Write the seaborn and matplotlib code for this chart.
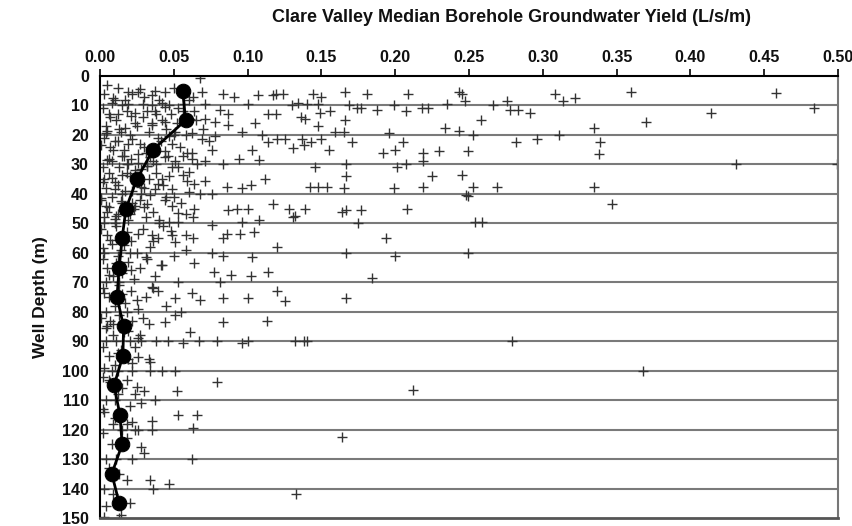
import matplotlib
matplotlib.use("Agg")
import matplotlib.pyplot as plt
import seaborn as sns
import pandas as pd

# ---- median line (L/s/m vs depth, m) ----
median_depth = [5, 15, 25, 35, 45, 55, 65, 75, 85, 95, 105, 115, 125, 135, 145]
median_yield = [0.056, 0.058, 0.036, 0.025, 0.0176, 0.015, 0.013, 0.0115, 0.016,
                0.0155, 0.0095, 0.0135, 0.015, 0.008, 0.013]

# ---- individual boreholes: high-yield (sparse) points ----
outer_yield = [0.458, 0.484, 0.414, 0.431, 0.499,
               0.360, 0.308, 0.314, 0.322, 0.266, 0.276, 0.278, 0.283, 0.291, 0.258, 0.370,
               0.335, 0.253, 0.282, 0.296, 0.311, 0.339, 0.338, 0.249, 0.245, 0.253, 0.269,
               0.335, 0.249, 0.347, 0.245, 0.247,
               0.119, 0.124, 0.144, 0.150, 0.166, 0.181, 0.209, 0.243, 0.235, 0.130, 0.134,
               0.140, 0.148, 0.169, 0.174, 0.177, 0.188, 0.199, 0.207, 0.218, 0.222, 0.119,
               0.136, 0.139, 0.149, 0.156, 0.166, 0.148, 0.159, 0.165, 0.196, 0.234, 0.243,
               0.120, 0.125, 0.137, 0.143, 0.150, 0.171, 0.205, 0.131, 0.138, 0.155, 0.192,
               0.200, 0.219, 0.230, 0.219, 0.146, 0.167, 0.201, 0.207, 0.167, 0.225, 0.142,
               0.148, 0.154, 0.165, 0.199, 0.219, 0.248, 0.117, 0.128, 0.132, 0.139, 0.164,
               0.167, 0.177, 0.208,
               0.131, 0.175, 0.254, 0.259, 0.194, 0.120, 0.167, 0.200, 0.249, 0.184, 0.120,
               0.125, 0.167, 0.132, 0.138, 0.140, 0.279, 0.212, 0.164, 0.133, 0.368]
outer_depth = [5.8, 10.8, 12.5, 30, 30,
               5.5, 6, 8.5, 7.5, 10, 8.5, 11.5, 11.5, 12.5, 15, 15.5,
               17.5, 20, 22.5, 21.5, 20, 22.5, 26.5, 25.5, 33.5, 37.5, 37.5,
               37.5, 40.7, 43.5, 6, 8.5,
               6, 6, 6, 7, 5.5, 6, 6, 5.5, 9.5, 10, 9,
               9.5, 9.5, 10, 11, 11, 11.5, 10, 12, 11, 11, 13,
               14, 14.5, 12.5, 12, 15, 17, 19, 19, 19.5, 17.5, 18.5,
               21.5, 21.5, 21.5, 22.5, 21.5, 22.5, 22.5, 24.5, 23.5, 25, 26,
               25, 26, 25.5, 29, 31, 30, 31, 30, 34, 34, 37.5,
               37.5, 37.5, 38, 38, 37.5, 40.5, 43.5, 45, 47.5, 45, 46,
               45.5, 45.5, 45,
               48, 50, 49.5, 49.5, 55, 58, 60, 61, 60, 68.5, 73,
               76.5, 75.5, 90, 90, 90, 90, 106.5, 122.5, 142, 100]

# ---- moderate-yield points ----
mid_yield = [0.068, 0.083, 0.091, 0.107, 0.117, 0.100, 0.114, 0.105, 0.096, 0.110, 0.114,
             0.103, 0.108, 0.094, 0.083, 0.112, 0.102, 0.086, 0.096, 0.076, 0.087, 0.093,
             0.100, 0.071, 0.064, 0.060, 0.071, 0.062, 0.076, 0.069, 0.078, 0.081, 0.087,
             0.087, 0.071, 0.069, 0.044, 0.035, 0.042, 0.047, 0.037, 0.056, 0.064, 0.071,
             0.078, 0.044, 0.035, 0.051, 0.062, 0.049, 0.056, 0.044, 0.032, 0.049, 0.056,
             0.042, 0.037, 0.049, 0.060, 0.049, 0.064, 0.058,
             0.076, 0.096, 0.108, 0.086, 0.095, 0.104, 0.083, 0.047, 0.053, 0.063, 0.035,
             0.049, 0.058, 0.063, 0.051, 0.050, 0.076, 0.083, 0.103, 0.064, 0.077, 0.089,
             0.102, 0.114, 0.081, 0.039, 0.051, 0.062, 0.068, 0.083, 0.100, 0.051, 0.044,
             0.083, 0.113, 0.061, 0.079, 0.096, 0.100, 0.056, 0.026, 0.034,
             0.051, 0.042, 0.034, 0.079, 0.052, 0.030, 0.025, 0.037, 0.053, 0.066, 0.035,
             0.022, 0.063, 0.030, 0.062, 0.018, 0.034, 0.047, 0.036, 0.014, 0.003]
mid_depth = [0.6, 6, 7, 6.5, 6.5, 9.5, 13, 16, 19, 20, 22.5,
             25, 28.5, 28, 30, 35, 37, 37.5, 38, 40, 45.5, 45,
             45, 35.5, 36.5, 32.5, 29, 26, 25, 21.5, 20.5, 11.5, 13,
             16.5, 9.5, 5.5, 5.5, 6.5, 9, 10, 12, 12, 12, 14.5,
             15.5, 15.5, 16.5, 19, 19.5, 23, 27, 27.5, 30.5, 31, 33.5,
             35, 38.5, 38.5, 39.5, 44, 45, 47,
             50.5, 49.5, 49, 53.5, 53.5, 53, 55, 49.5, 49.5, 48, 54,
             54, 54, 55, 56.5, 61, 60, 61, 61.5, 63.5, 66.5, 67.5,
             68, 66.5, 70, 73, 75.5, 73.5, 76, 75.5, 75.5, 81, 83.5,
             83.5, 83, 87, 90, 90.5, 90, 90.5, 95.5, 97,
             100, 100, 100, 104, 107, 107, 105.5, 110, 115, 115, 117,
             117.5, 119.5, 128, 130, 137, 137, 138.5, 140, 149, 149.5]

# ---- low-yield (dense) points ----
low_yield = [0.005, 0.012, 0.022, 0.030, 0.008, 0.015, 0.035, 0.040, 0.050, 0.060,
             0.003, 0.019, 0.026, 0.010, 0.019, 0.029, 0.024, 0.012, 0.017, 0.005,
             0.002, 0.006, 0.011, 0.018, 0.024, 0.029, 0.033, 0.038, 0.004, 0.014,
             0.020, 0.045, 0.052, 0.058, 0.022, 0.010, 0.001, 0.026, 0.015, 0.005,
             0.003, 0.007, 0.012, 0.016, 0.021, 0.027, 0.031, 0.036, 0.041, 0.008,
             0.018, 0.046, 0.054, 0.066, 0.019, 0.032, 0.015, 0.003, 0.028, 0.010,
             0.002, 0.006, 0.010, 0.013, 0.017, 0.020, 0.024, 0.028, 0.033, 0.038,
             0.043, 0.004, 0.053, 0.068, 0.015, 0.001, 0.022, 0.032, 0.005, 0.010,
             0.001, 0.004, 0.008, 0.012, 0.015, 0.019, 0.023, 0.027, 0.031, 0.036,
             0.040, 0.003, 0.045, 0.055, 0.010,
             0.001, 0.005, 0.008, 0.011, 0.014, 0.018, 0.021, 0.025, 0.029, 0.034,
             0.039, 0.003, 0.043, 0.058, 0.020,
             0.002, 0.005, 0.009, 0.012, 0.015, 0.019, 0.023, 0.027, 0.032, 0.037,
             0.004, 0.042, 0.053, 0.013,
             0.002, 0.006, 0.010, 0.013, 0.017, 0.021, 0.026, 0.031, 0.036, 0.004,
             0.045, 0.055, 0.018,
             0.001, 0.005, 0.009, 0.013, 0.017, 0.022, 0.027, 0.033, 0.004, 0.011,
             0.020, 0.028, 0.038, 0.046, 0.067,
             0.002, 0.006, 0.010, 0.014, 0.019, 0.024, 0.003, 0.012, 0.022, 0.008,
             0.002, 0.007, 0.012, 0.018, 0.004, 0.010, 0.020, 0.003, 0.009, 0.015,
             0.024, 0.002, 0.008, 0.018, 0.028, 0.004, 0.011, 0.022, 0.006, 0.013,
             0.003, 0.009, 0.020, 0.004, 0.013, 0.026, 0.035]
low_depth = [3, 4, 6, 7, 9, 10, 10, 8, 4, 8,
             6, 5.5, 5.5, 8, 9.5, 9.5, 12.5, 13, 17.5, 18.5,
             11, 13, 15, 12, 16, 14, 19, 13, 17, 19,
             20, 18, 16, 20, 21.5, 22, 23.5, 26.5, 27, 28.5,
             21, 24, 22, 25, 28, 23, 26, 29, 22, 29,
             30, 27, 24, 30, 30, 30.5, 33.5, 35, 37.5, 38.5,
             31, 33, 36, 31, 39, 34, 32, 40, 35, 33,
             37, 38, 31, 40, 40, 41.5, 43, 43.5, 46, 48.5,
             42, 44, 41, 47, 43, 49, 45, 42, 48, 46,
             50, 50, 41, 43, 50,
             52, 54, 57, 51, 59, 53, 56, 60, 52, 58,
             55, 60, 51, 59, 60,
             62, 65, 68, 61, 67, 63, 69, 65, 62, 68,
             70, 64, 70, 70,
             72, 75, 78, 71, 77, 73, 79, 75, 72, 80,
             78, 80, 80,
             82, 85, 88, 81, 86, 83, 88, 84, 90, 90,
             90, 90, 90, 90, 90,
             92, 95, 98, 93, 96, 92, 99, 100, 100, 100,
             102, 104, 108, 103, 110, 110, 112, 114, 118, 120,
             120, 121, 125, 123, 126, 130, 130, 130, 133, 135,
             140, 142, 145, 146, 150, 120, 120]

# ---- additional points in the densest band (shallow, low yield) ----
dense_yield = [0.009, 0.017, 0.027, 0.037, 0.044, 0.053, 0.063, 0.007, 0.021, 0.032,
               0.042, 0.048, 0.057, 0.065, 0.004, 0.013, 0.025, 0.035, 0.047, 0.061,
               0.070, 0.009, 0.019, 0.030, 0.039, 0.050, 0.059, 0.074, 0.006, 0.016,
               0.026, 0.034, 0.044, 0.051, 0.062, 0.008, 0.018, 0.028, 0.038, 0.047,
               0.059, 0.002, 0.012, 0.022, 0.030, 0.039, 0.050, 0.006, 0.014, 0.024,
               0.034, 0.044, 0.053, 0.003, 0.011, 0.020, 0.030, 0.040, 0.048, 0.007,
               0.016, 0.026, 0.036, 0.002, 0.011, 0.021, 0.031, 0.041, 0.006, 0.015,
               0.025, 0.035, 0.003, 0.009, 0.019, 0.029, 0.007, 0.016, 0.026, 0.004,
               0.012, 0.022, 0.033, 0.006, 0.015, 0.024, 0.002, 0.010, 0.018, 0.028]
dense_depth = [7.5, 8, 4.5, 5, 10.5, 11, 7, 14, 13.5, 12, 15, 13, 9.5, 15,
               19.5, 18, 17, 16, 20.5, 14.5, 18, 25, 23, 24, 21, 20, 26, 22,
               28, 27, 29.5, 27.5, 25.5, 29, 28, 34.5, 33, 31.5, 30, 34, 35.5, 36,
               37, 39, 38, 36.5, 41, 44.5, 42.5, 44, 40.5, 42, 46.5, 48, 47.5,
               47, 44.5, 49, 52.5, 55.5, 57.5, 53.5, 56, 58.5, 63.5, 66, 61.5, 64,
               67.5, 74, 76, 71.5, 73.5, 84, 86.5, 82, 83, 87, 89, 85.5, 94, 97.5,
               96, 103, 106, 108, 113, 116, 118, 111]

scatter_df = pd.DataFrame({
    "yield": outer_yield + mid_yield + low_yield + dense_yield,
    "depth": outer_depth + mid_depth + low_depth + dense_depth,
})
median_df = pd.DataFrame({"yield": median_yield, "depth": median_depth})

x_ticks = [0.00, 0.05, 0.10, 0.15, 0.20, 0.25, 0.30, 0.35, 0.40, 0.45, 0.50]
y_ticks = list(range(0, 151, 10))

sns.set_style("white")
plt.rcParams["font.family"] = ["Liberation Sans", "DejaVu Sans"]

fig = plt.figure(figsize=(8.52, 5.26), dpi=100)
ax = fig.add_axes([100 / 852, 8 / 526, 738 / 852, 442 / 526])

for d in y_ticks[1:-1]:
    ax.axhline(d, color="#7a7a7a", lw=1.5, zorder=0)

sns.scatterplot(data=scatter_df, x="yield", y="depth", marker="+", s=60,
                color="#333333", linewidth=1.0, ax=ax, zorder=2, legend=False)
sns.lineplot(data=median_df, x="yield", y="depth", sort=False, estimator=None,
             color="black", lw=2.0, marker="o", markersize=10.5,
             markeredgecolor="black", markerfacecolor="black", ax=ax, zorder=3)

ax.set_xlim(0, 0.5)
ax.set_ylim(150, 0)
ax.set_xticks(x_ticks)
ax.set_xticklabels([f"{v:.2f}" for v in x_ticks])
ax.set_yticks(y_ticks)
ax.xaxis.tick_top()
ax.xaxis.set_label_position("top")
ax.tick_params(axis="both", direction="out", length=5, width=1.2, color="black",
               labelsize=11.5, pad=3, labelcolor="#111111")
for lbl in ax.get_xticklabels() + ax.get_yticklabels():
    lbl.set_fontweight("bold")

ax.set_xlabel("Clare Valley Median Borehole Groundwater Yield (L/s/m)",
              fontsize=13, fontweight="bold", color="#111111")
ax.xaxis.label.set_va("center")
ax.xaxis.set_label_coords((512 - 100) / 738, 1 + (76 - 18) / 442)
ax.set_ylabel("Well Depth (m)", fontsize=12.5, fontweight="bold", labelpad=10,
              color="#111111")

ax.spines["top"].set_color("black")
ax.spines["top"].set_linewidth(1.5)
ax.spines["left"].set_color("black")
ax.spines["left"].set_linewidth(1.5)
ax.spines["bottom"].set_color("#555555")
ax.spines["bottom"].set_linewidth(2.0)
ax.spines["right"].set_color("#777777")
ax.spines["right"].set_linewidth(1.5)

fig.savefig("out.png", dpi=100)
